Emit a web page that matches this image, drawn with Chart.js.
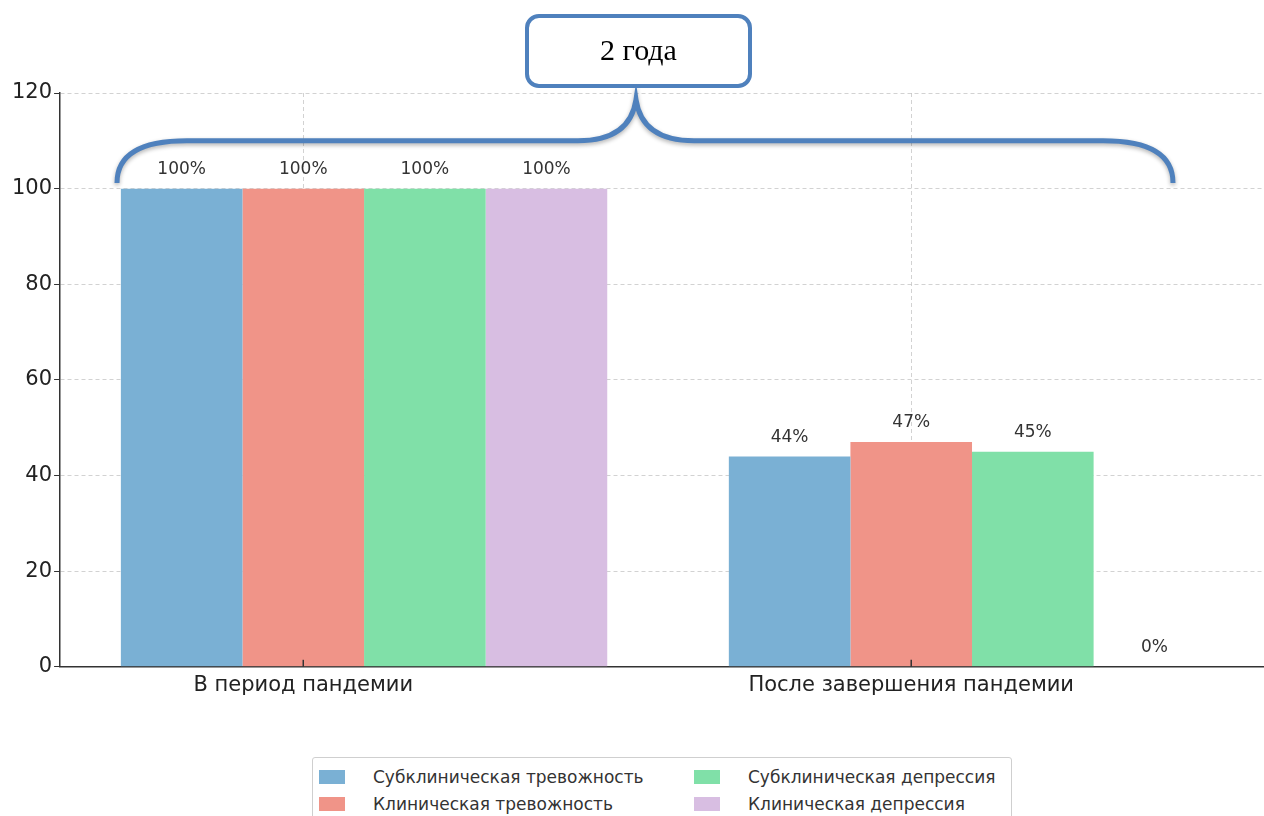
<!DOCTYPE html>
<html lang="ru">
<head>
<meta charset="utf-8">
<script src="https://cdn.jsdelivr.net/npm/chart.js@4.4.1/dist/chart.umd.min.js"></script>
<style>
  html, body { margin: 0; padding: 0; background: #fff; overflow: hidden; }
  #wrap { position: relative; width: 1264px; height: 816px; overflow: hidden; }
  #legend {
    position: absolute; left: 312px; top: 757px; width: 700px; height: 70px;
    border: 1px solid #cfcfcf; border-radius: 3px; background: #fff;
    font: 17px "DejaVu Sans", sans-serif; color: #333;
    display: grid; grid-template-columns: 375px 320px; grid-auto-flow: column;
    grid-template-rows: 27px 27px; padding: 5px 0 0 6px; box-sizing: border-box;
  }
  #legend .item { display: flex; align-items: center; white-space: nowrap; }
  #legend .sw { width: 26px; height: 14px; margin-right: 28px; }
</style>
</head>
<body>
<div id="wrap">
  <canvas id="chart" width="1276" height="816"></canvas>
  <div id="legend"></div>
</div>
<script>
const categories = ['В период пандемии', 'После завершения пандемии'];
const seriesNames = [
  'Субклиническая тревожность',
  'Клиническая тревожность',
  'Субклиническая депрессия',
  'Клиническая депрессия'
];
const subclinicalAnxiety = [100, 44];
const clinicalAnxiety = [100, 47];
const subclinicalDepression = [100, 45];
const clinicalDepression = [100, 0];
const yTicks = [0, 20, 40, 60, 80, 100, 120];
const spanLabel = '2 года';

const colors = ['rgb(122,176,212)', 'rgb(240,148,136)', 'rgb(128,224,168)', 'rgb(216,190,226)'];
const seriesValues = [subclinicalAnxiety, clinicalAnxiety, subclinicalDepression, clinicalDepression];

const datasets = seriesNames.map((name, i) => ({
  label: name,
  data: seriesValues[i],
  backgroundColor: colors[i],
  borderWidth: 0,
  categoryPercentage: 0.8,
  barPercentage: 1.0,
  xAxisID: 'x'
}));

// percent labels above each bar
const valueLabels = {
  id: 'valueLabels',
  afterDatasetsDraw(chart) {
    const ctx = chart.ctx;
    ctx.save();
    ctx.font = '17px "DejaVu Sans", sans-serif';
    ctx.fillStyle = '#333';
    ctx.textAlign = 'center';
    ctx.textBaseline = 'middle';
    chart.data.datasets.forEach((ds, di) => {
      chart.getDatasetMeta(di).data.forEach((bar, i) => {
        ctx.fillText(ds.data[i] + '%', bar.x, bar.y - 19);
      });
    });
    ctx.restore();
  }
};

// small inward tick marks on the bottom axis
const innerTicks = {
  id: 'innerTicks',
  afterDraw(chart) {
    const ctx = chart.ctx;
    const sx = chart.scales.x2;
    const bottom = chart.chartArea.bottom;
    ctx.save();
    ctx.strokeStyle = '#333';
    ctx.lineWidth = 1.5;
    sx.ticks.forEach(t => {
      const px = sx.getPixelForValue(t.value);
      ctx.beginPath();
      ctx.moveTo(px, bottom);
      ctx.lineTo(px, bottom - 7);
      ctx.stroke();
    });
    ctx.restore();
  }
};

// curly brace spanning both periods plus the caption box
const spanBrace = {
  id: 'spanBrace',
  afterDraw(chart) {
    const ctx = chart.ctx;
    const y = chart.scales.y;
    const yEnd = y.getPixelForValue(101.2);
    const yMid = y.getPixelForValue(110);
    const yTop = y.getPixelForValue(118.6);
    const x0 = 117, x1 = 1173, xc = 636;
    ctx.save();
    ctx.strokeStyle = '#4f81bd';
    ctx.lineWidth = 5;
    ctx.lineCap = 'butt';
    ctx.shadowColor = 'rgba(0,0,0,0.3)';
    ctx.shadowBlur = 4;
    ctx.shadowOffsetY = 2;
    ctx.beginPath();
    ctx.moveTo(x0, yEnd);
    ctx.quadraticCurveTo(x0, yMid, x0 + 70, yMid);
    ctx.lineTo(xc - 58, yMid);
    ctx.quadraticCurveTo(xc - 6, yMid, xc, yTop);
    ctx.quadraticCurveTo(xc + 6, yMid, xc + 58, yMid);
    ctx.lineTo(x1 - 70, yMid);
    ctx.quadraticCurveTo(x1, yMid, x1, yEnd);
    ctx.stroke();

    ctx.shadowColor = 'transparent';
    const bx = 527, by = 16, bw = 223, bh = 70;
    ctx.fillStyle = '#fff';
    ctx.lineWidth = 4;
    ctx.beginPath();
    ctx.roundRect(bx, by, bw, bh, 12);
    ctx.fill();
    ctx.stroke();
    ctx.fillStyle = '#000';
    ctx.font = '30px "Liberation Serif", "Times New Roman", serif';
    ctx.textAlign = 'center';
    ctx.textBaseline = 'middle';
    ctx.fillText(spanLabel, bx + bw / 2, by + bh / 2 + 1);
    ctx.restore();
  }
};

const chart = new Chart(document.getElementById('chart'), {
  type: 'bar',
  data: { labels: categories, datasets },
  options: {
    responsive: false,
    animation: false,
    layout: { padding: { left: 10, top: 93, right: 0, bottom: 112 } },
    plugins: {
      legend: { display: false },
      tooltip: { enabled: false }
    },
    scales: {
      x: {
        type: 'category',
        display: false,
        offset: true
      },
      x2: {
        type: 'linear',
        position: 'bottom',
        offset: false,
        min: -0.4,
        max: 1.6,
        afterBuildTicks(axis) {
          axis.ticks = categories.map((_, i) => ({ value: i }));
        },
        ticks: {
          callback: (v) => categories[v],
          font: { family: '"DejaVu Sans", sans-serif', size: 21 },
          color: '#222',
          padding: 6,
          maxRotation: 0,
          autoSkip: false
        },
        grid: { color: 'rgba(180,180,180,0.6)', drawTicks: false, offset: false },
        border: { color: '#333', width: 1.5, dash: [4, 3] }
      },
      y: {
        min: 0,
        max: 120,
        afterBuildTicks(axis) {
          axis.ticks = yTicks.map(v => ({ value: v }));
        },
        ticks: {
          font: { family: '"DejaVu Sans", sans-serif', size: 21 },
          color: '#222',
          padding: 2
        },
        grid: {
          color: (c) => c.tick && c.tick.value === 0 ? 'rgba(0,0,0,0)' : 'rgba(180,180,180,0.6)',
          tickColor: '#333',
          tickLength: 6
        },
        border: { color: '#333', width: 1.5, dash: [4, 3] }
      }
    }
  },
  plugins: [valueLabels, innerTicks, spanBrace]
});

// two-column legend, filled column by column
const legend = document.getElementById('legend');
chart.data.datasets.forEach(ds => {
  const item = document.createElement('div');
  item.className = 'item';
  const sw = document.createElement('span');
  sw.className = 'sw';
  sw.style.background = ds.backgroundColor;
  item.appendChild(sw);
  item.appendChild(document.createTextNode(ds.label));
  legend.appendChild(item);
});
</script>
</body>
</html>
